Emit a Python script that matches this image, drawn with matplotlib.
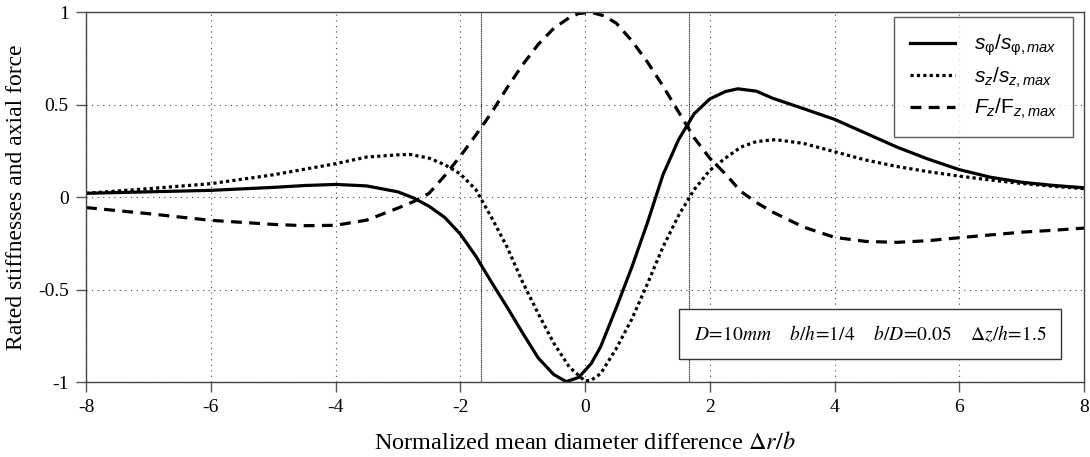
import numpy as np
import matplotlib
matplotlib.use("Agg")
import matplotlib.pyplot as plt

x_sphi = [-8, -7, -6, -5, -4.5, -4, -3.5, -3.0, -2.75, -2.5, -2.25, -2.0, -1.75, -1.5,
          -1.25, -1.0, -0.75, -0.5, -0.3, -0.1, 0.1, 0.25, 0.5, 0.75, 1.0, 1.25, 1.5,
          1.75, 2.0, 2.25, 2.45, 2.75, 3.0, 3.5, 4.0, 4.5, 5.0, 5.5, 6.0, 6.5, 7.0, 7.5, 8]
y_sphi = [0.02, 0.028, 0.036, 0.052, 0.062, 0.068, 0.06, 0.028, -0.005, -0.05, -0.11,
          -0.2, -0.32, -0.46, -0.595, -0.735, -0.87, -0.96, -0.998, -0.975, -0.9, -0.81,
          -0.6, -0.38, -0.14, 0.12, 0.31, 0.45, 0.53, 0.57, 0.585, 0.572, 0.535, 0.478,
          0.42, 0.345, 0.27, 0.205, 0.148, 0.107, 0.08, 0.063, 0.05]

x_sz = [-8, -7, -6, -5, -4.5, -4, -3.5, -3.0, -2.8, -2.5, -2.25, -2.0, -1.75, -1.5,
        -1.25, -1.0, -0.75, -0.5, -0.25, 0.0, 0.1, 0.25, 0.5, 0.75, 1.0, 1.25, 1.5,
        1.75, 2.0, 2.25, 2.5, 2.75, 3.05, 3.5, 4.0, 4.5, 5.0, 5.5, 6.0, 6.5, 7.0, 7.5, 8]
y_sz = [0.02, 0.045, 0.072, 0.12, 0.15, 0.18, 0.216, 0.228, 0.23, 0.21, 0.175, 0.125,
        0.04, -0.11, -0.27, -0.46, -0.63, -0.79, -0.92, -0.995, -0.99, -0.955, -0.82,
        -0.66, -0.47, -0.27, -0.1, 0.04, 0.144, 0.21, 0.27, 0.3, 0.31, 0.29, 0.245,
        0.2, 0.165, 0.137, 0.113, 0.092, 0.073, 0.058, 0.045]

x_fz = [-8, -7, -6, -5, -4.5, -4, -3.5, -3.0, -2.75, -2.5, -2.25, -2.0, -1.75, -1.5,
        -1.25, -1.0, -0.75, -0.5, -0.25, -0.1, 0.1, 0.3, 0.5, 0.75, 1.0, 1.25, 1.5,
        1.75, 2.0, 2.25, 2.5, 2.75, 3.0, 3.5, 4.0, 4.5, 5.0, 5.5, 6.0, 6.5, 7.0, 7.5, 8]
y_fz = [-0.057, -0.09, -0.126, -0.148, -0.155, -0.153, -0.125, -0.06, -0.025, 0.02,
        0.115, 0.22, 0.335, 0.455, 0.59, 0.715, 0.825, 0.912, 0.97, 0.992, 0.998, 0.98,
        0.94, 0.845, 0.73, 0.6, 0.46, 0.32, 0.21, 0.125, 0.03, -0.03, -0.08, -0.162,
        -0.218, -0.24, -0.245, -0.236, -0.22, -0.205, -0.19, -0.18, -0.168]

x_limits = [-1.67, 1.67]
x_ticks = [-8, -6, -4, -2, 0, 2, 4, 6, 8]
y_ticks = [-1, -0.5, 0, 0.5, 1]
y_ticklabels = ["-1", "-0.5", "0", "0.5", "1"]

plt.rcParams["font.family"] = "Liberation Serif"
plt.rcParams["mathtext.fontset"] = "custom"
plt.rcParams["mathtext.rm"] = "Liberation Sans"
plt.rcParams["mathtext.it"] = "Liberation Sans:italic"

fig = plt.figure(figsize=(10.9, 4.57), dpi=100)
ax = fig.add_axes([0.0789, 0.1641, 0.9156, 0.8096])

lw = 2.3
ax.plot(x_sphi, y_sphi, color="black", lw=lw, solid_joinstyle="round",
        label=r"$s_{\mathrm{\varphi}}/s_{\mathrm{\varphi},max}$")
ax.plot(x_sz, y_sz, color="black", lw=lw, dashes=(1.0, 1.0),
        label=r"$s_z/s_{z,max}$")
ax.plot(x_fz, y_fz, color="black", lw=lw, dashes=(3.4, 2.3),
        label=r"$F_z/\mathrm{F}_{z,max}$")

for xv in x_limits:
    ax.axvline(xv, color="#222222", lw=0.8, ls=(0, (1, 0.6)), zorder=1)

ax.set_xlim(-8, 8)
ax.set_ylim(-1, 1)
ax.set_xticks(x_ticks)
ax.set_xticklabels([str(t) for t in x_ticks])
ax.set_yticks(y_ticks)
ax.set_yticklabels(y_ticklabels)
ax.grid(True, color="#444444", ls=(0, (1, 4)), lw=0.8)
ax.tick_params(direction="out", length=7.5, width=1, color="#555555", labelsize=14,
               top=False, right=False, pad=5)
for sp in ax.spines.values():
    sp.set_color("#444444")
    sp.set_linewidth(1.0)

ax.set_xlabel(r"Normalized mean diameter difference $\Delta r/b$", fontsize=17.5,
              labelpad=11, math_fontfamily="stix")
ax.set_ylabel("Rated stiffnesses and axial force", fontsize=17, labelpad=8)

leg = ax.legend(loc="upper right", bbox_to_anchor=(0.989, 0.986), fontsize=15,
                frameon=True, fancybox=False, edgecolor="#333333",
                handlelength=2.2, handletextpad=0.9, labelspacing=0.35,
                borderpad=0.75, borderaxespad=0)
leg.get_frame().set_linewidth(1.0)

ax.text(0.786, 0.13,
        r"$D\!=\!\mathit{10mm}$    $b/h\!=\!\mathrm{1/4}$    $b/D\!=\!\mathrm{0.05}$    $\Delta z/h\!=\!\mathrm{1.5}$",
        transform=ax.transAxes, ha="center", va="center", fontsize=14,
        math_fontfamily="stix",
        bbox=dict(boxstyle="square,pad=0.75", fc="white", ec="#333333", lw=1.0))

fig.savefig("out.png", dpi=100)
